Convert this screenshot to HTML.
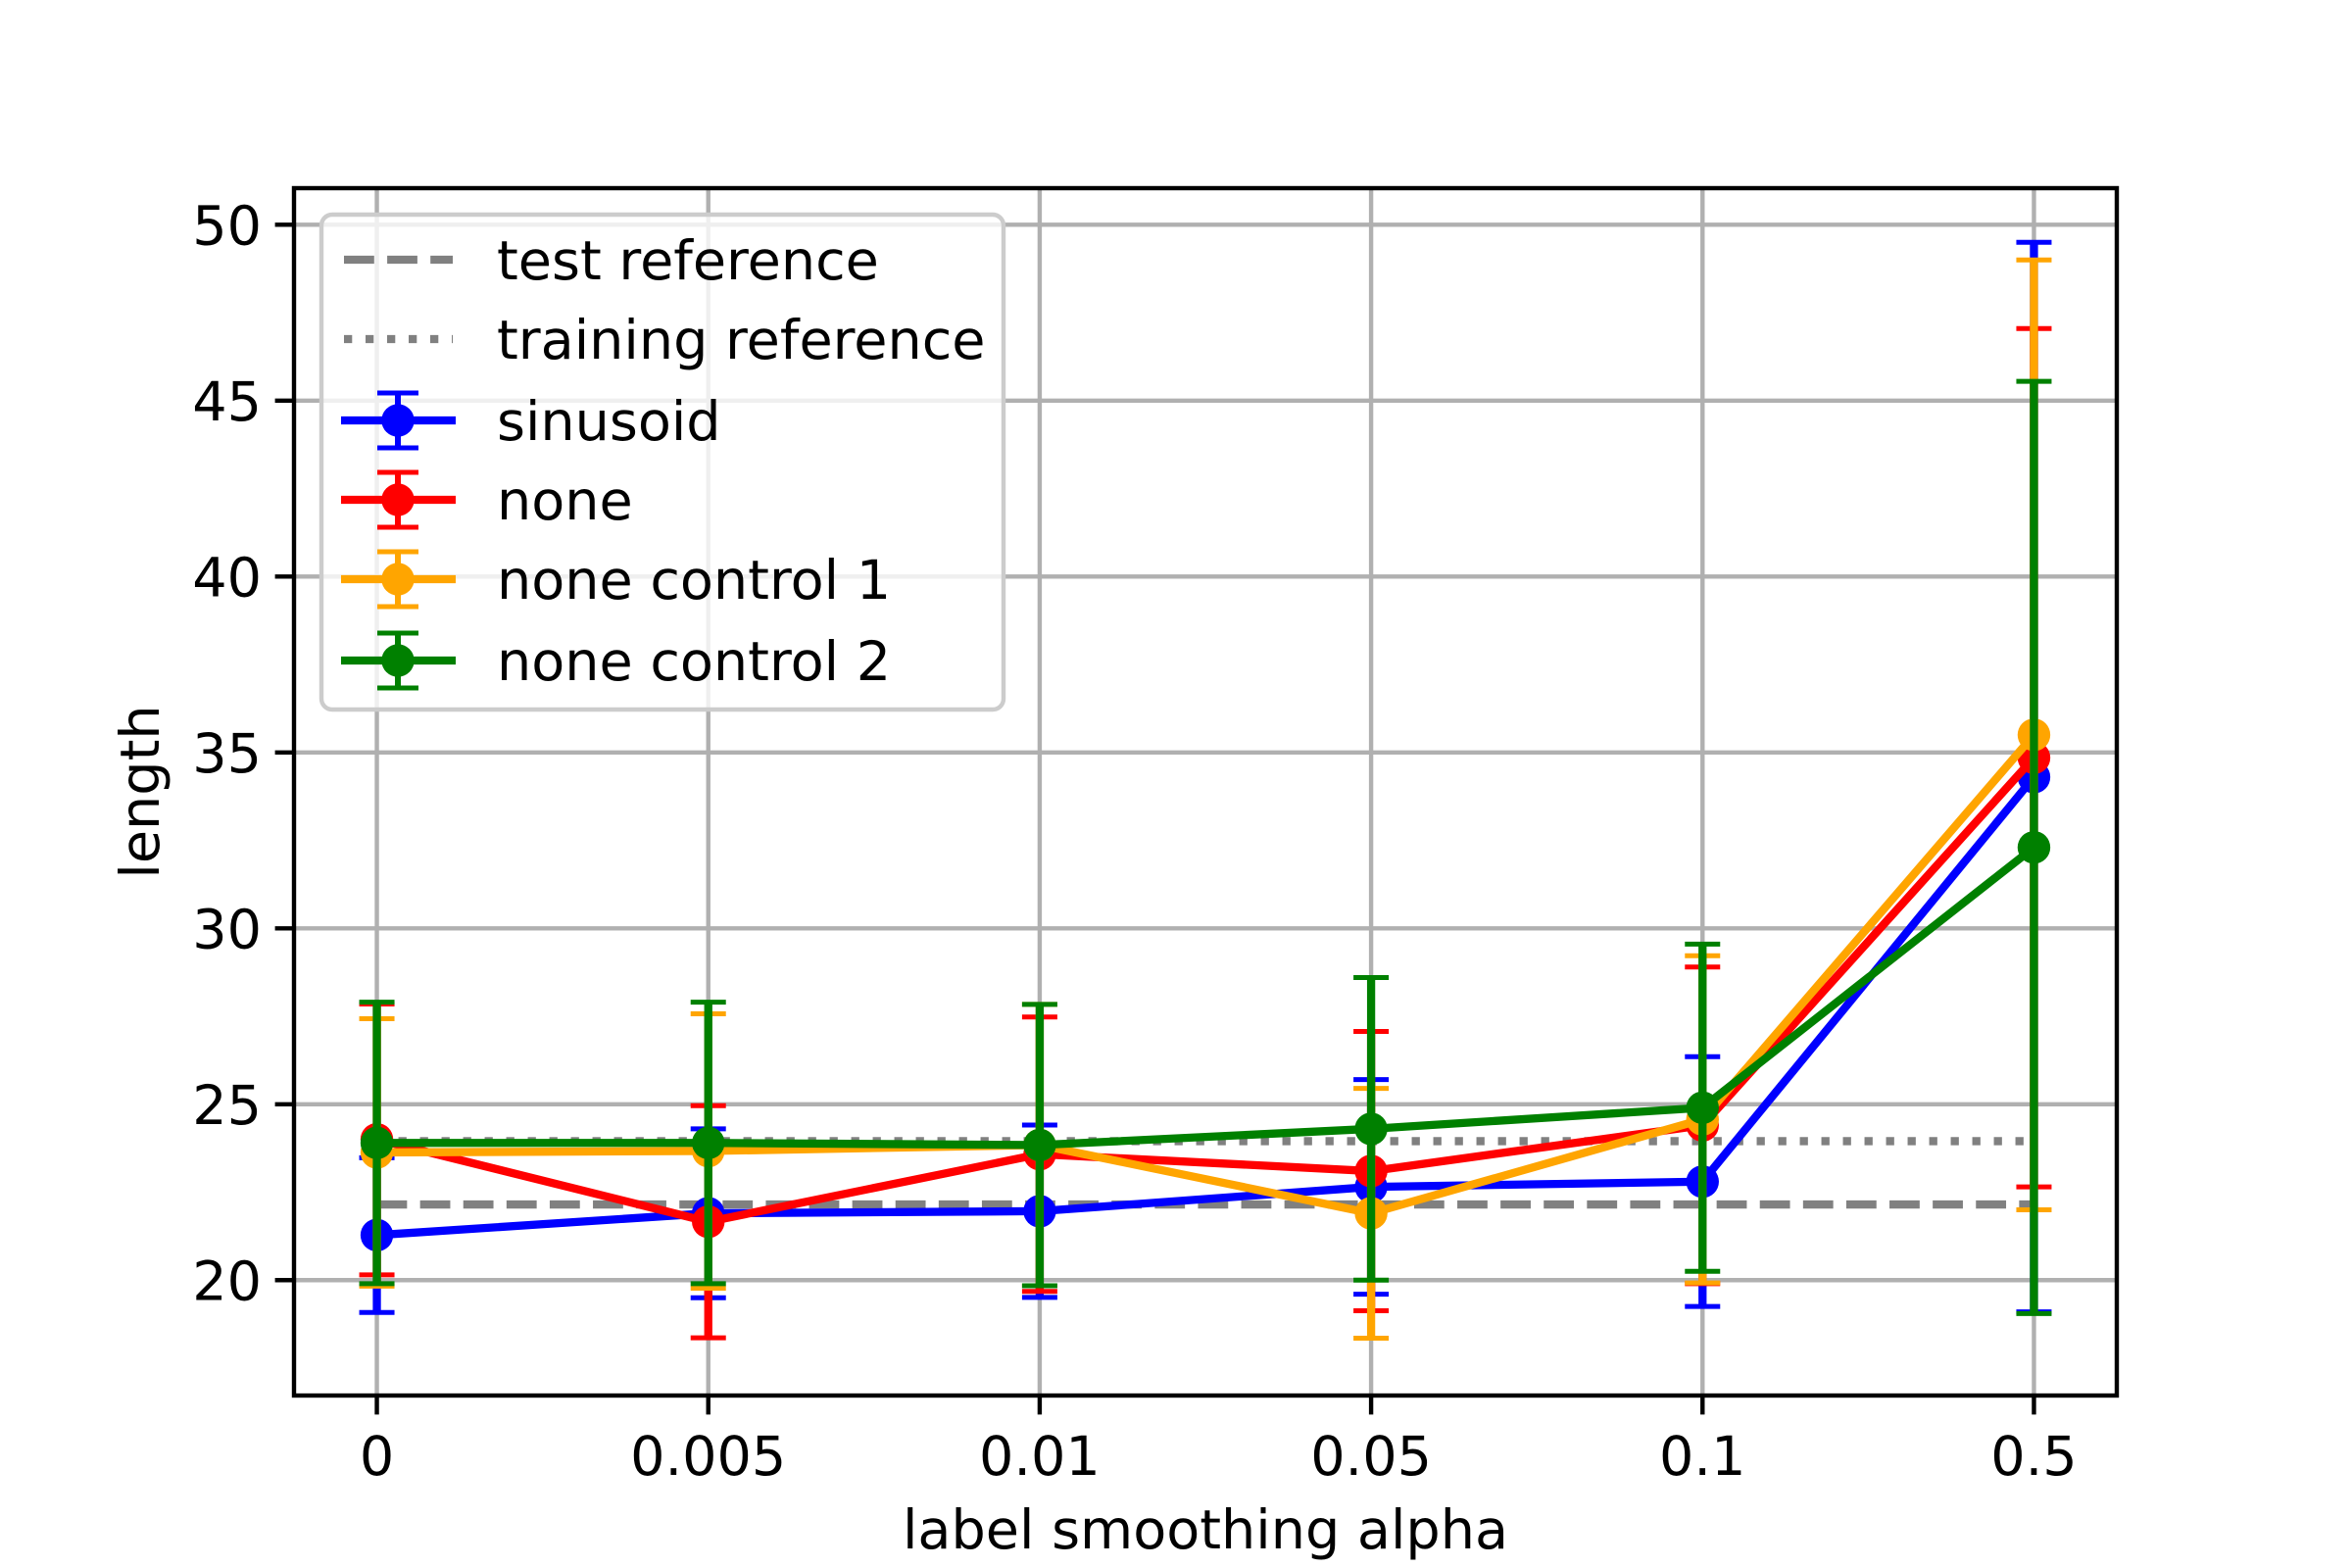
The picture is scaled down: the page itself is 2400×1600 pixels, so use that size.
<!DOCTYPE html>
<html><head><meta charset="utf-8"><style>
html,body{margin:0;padding:0;background:#fff;}
svg{display:block;font-family:"DejaVu Sans","Liberation Sans",sans-serif;}
</style></head><body>
<svg id="chart" width="2400" height="1600" viewBox="0 0 2400 1600" xmlns="http://www.w3.org/2000/svg"></svg>
<script>
const categories = ["0","0.005","0.01","0.05","0.1","0.5"];
const yTicks = [20,25,30,35,40,45,50];
const sinusoidVals = [21.28,21.9,21.96,22.65,22.8,34.3];
const sinusoidErr  = [2.2,2.4,2.45,3.05,3.55,15.2];
const noneVals = [24.0,21.66,23.58,23.1,24.4,34.85];
const noneErr  = [3.85,3.3,3.9,3.97,4.5,12.2];
const ctrl1Vals = [23.63,23.67,23.84,21.9,24.57,35.5];
const ctrl1Err  = [3.8,3.9,4.0,3.55,4.65,13.5];
const ctrl2Vals = [23.9,23.9,23.84,24.3,24.9,32.3];
const ctrl2Err  = [4.0,4.0,4.0,4.3,4.65,13.25];
const testRef = 22.15;
const trainRef = 23.95;

const NS="http://www.w3.org/2000/svg";
const svg=document.getElementById('chart');
const L=300,R=2160,T=192,B=1424;
const xmin=-0.25,xmax=categories.length-1+0.25,ymin=16.72,ymax=51.04;
const X=i=>L+(i-xmin)/(xmax-xmin)*(R-L);
const Y=v=>B-(v-ymin)/(ymax-ymin)*(B-T);
function mk(tag,attrs,parent){const e=document.createElementNS(NS,tag);for(const k in attrs)e.setAttribute(k,attrs[k]);(parent||svg).appendChild(e);return e;}

const grid=mk('g',{});


categories.forEach((c,i)=>{mk('line',{x1:X(i),x2:X(i),y1:T,y2:B,stroke:'#b0b0b0','stroke-width':4.4},grid);});
yTicks.forEach(v=>{mk('line',{x1:L,x2:R,y1:Y(v),y2:Y(v),stroke:'#b0b0b0','stroke-width':4.4},grid);});

// reference lines
const tl=mk('line',{x1:X(0),x2:X(5),y1:Y(testRef),y2:Y(testRef),stroke:'#808080','stroke-width':8.3,'stroke-dasharray':'30.8 13.3'});


const trl=mk('line',{x1:X(0),x2:X(5),y1:Y(trainRef),y2:Y(trainRef),stroke:'#808080','stroke-width':8.3,'stroke-dasharray':'8.3 13.7'});



const series=[
 {name:'sinusoid',color:'#0000ff',v:sinusoidVals,e:sinusoidErr},
 {name:'none',color:'#ff0000',v:noneVals,e:noneErr},
 {name:'none-control-1',color:'#ffa500',v:ctrl1Vals,e:ctrl1Err},
 {name:'none-control-2',color:'#008000',v:ctrl2Vals,e:ctrl2Err}
];
const cap=18;
series.forEach(s=>{
  const g=mk('g',{});
  
  
  s.v.forEach((v,i)=>{
    const x=X(i),y1=Y(v+s.e[i]),y2=Y(v-s.e[i]);
    const eb=mk('line',{x1:x,x2:x,y1:y1,y2:y2,stroke:s.color,'stroke-width':8.3},g);
    
    
    mk('line',{x1:x-cap,x2:x+cap,y1:y1,y2:y1,stroke:s.color,'stroke-width':5},g);
    mk('line',{x1:x-cap,x2:x+cap,y1:y2,y2:y2,stroke:s.color,'stroke-width':5},g);
  });
  const pl=mk('polyline',{points:s.v.map((v,i)=>X(i)+','+Y(v)).join(' '),fill:'none',stroke:s.color,'stroke-width':8.3,'stroke-linejoin':'round'},g);
  
  
  s.v.forEach((v,i)=>{
    const c=mk('circle',{cx:X(i),cy:Y(v),r:16.7,fill:s.color},g);
    
    
  });
});

// axes frame
const fr=mk('rect',{x:L,y:T,width:R-L,height:B-T,fill:'none',stroke:'#000','stroke-width':4.4});



categories.forEach((c,i)=>{
  mk('line',{x1:X(i),x2:X(i),y1:B,y2:B+19.4,stroke:'#000','stroke-width':4.4});
  const t=mk('text',{x:X(i),y:1505,'font-size':55.6,'text-anchor':'middle',fill:'#000'});
  t.textContent=c;
  
  
});
yTicks.forEach(v=>{
  mk('line',{x1:L-19.4,x2:L,y1:Y(v),y2:Y(v),stroke:'#000','stroke-width':4.4});
  const t=mk('text',{x:L-33,y:Y(v)+20,'font-size':55.6,'text-anchor':'end',fill:'#000'});
  t.textContent=v;
  
  
});
const xt=mk('text',{x:(L+R)/2,y:1580,'font-size':55.6,'text-anchor':'middle',fill:'#000'});
xt.textContent='label smoothing alpha';


const yt=mk('text',{x:0,y:0,'font-size':55.6,'text-anchor':'middle',fill:'#000',transform:'translate(162,'+((T+B)/2)+') rotate(-90)'});
yt.textContent='length';



// legend
const lg=mk('g',{});


mk('rect',{x:328,y:219,width:696,height:505,rx:11,fill:'#fff','fill-opacity':0.8,stroke:'#cccccc','stroke-width':4.4},lg);
const rows=[265,346,429,510,591,674];
const labels=['test reference','training reference','sinusoid','none','none control 1','none control 2'];
rows.forEach((y,k)=>{
  const e=mk('g',{},lg);
  
  
  if(k===0) mk('line',{x1:351,x2:462,y1:y,y2:y,stroke:'#808080','stroke-width':8.3,'stroke-dasharray':'30.8 13.3'},e);
  else if(k===1) mk('line',{x1:351,x2:462,y1:y,y2:y,stroke:'#808080','stroke-width':8.3,'stroke-dasharray':'8.3 13.7'},e);
  else {
    const col=series[k-2].color;
    mk('line',{x1:348,x2:465,y1:y,y2:y,stroke:col,'stroke-width':8.3},e);
    mk('line',{x1:406,x2:406,y1:y-28,y2:y+28,stroke:col,'stroke-width':6},e);
    mk('line',{x1:385,x2:427,y1:y-28,y2:y-28,stroke:col,'stroke-width':5},e);
    mk('line',{x1:385,x2:427,y1:y+28,y2:y+28,stroke:col,'stroke-width':5},e);
    mk('circle',{cx:406,cy:y,r:16.7,fill:col},e);
  }
  const t=mk('text',{x:507,y:y+20,'font-size':55.6,fill:'#000'},e);
  t.textContent=labels[k];
});
</script>
</body></html>
